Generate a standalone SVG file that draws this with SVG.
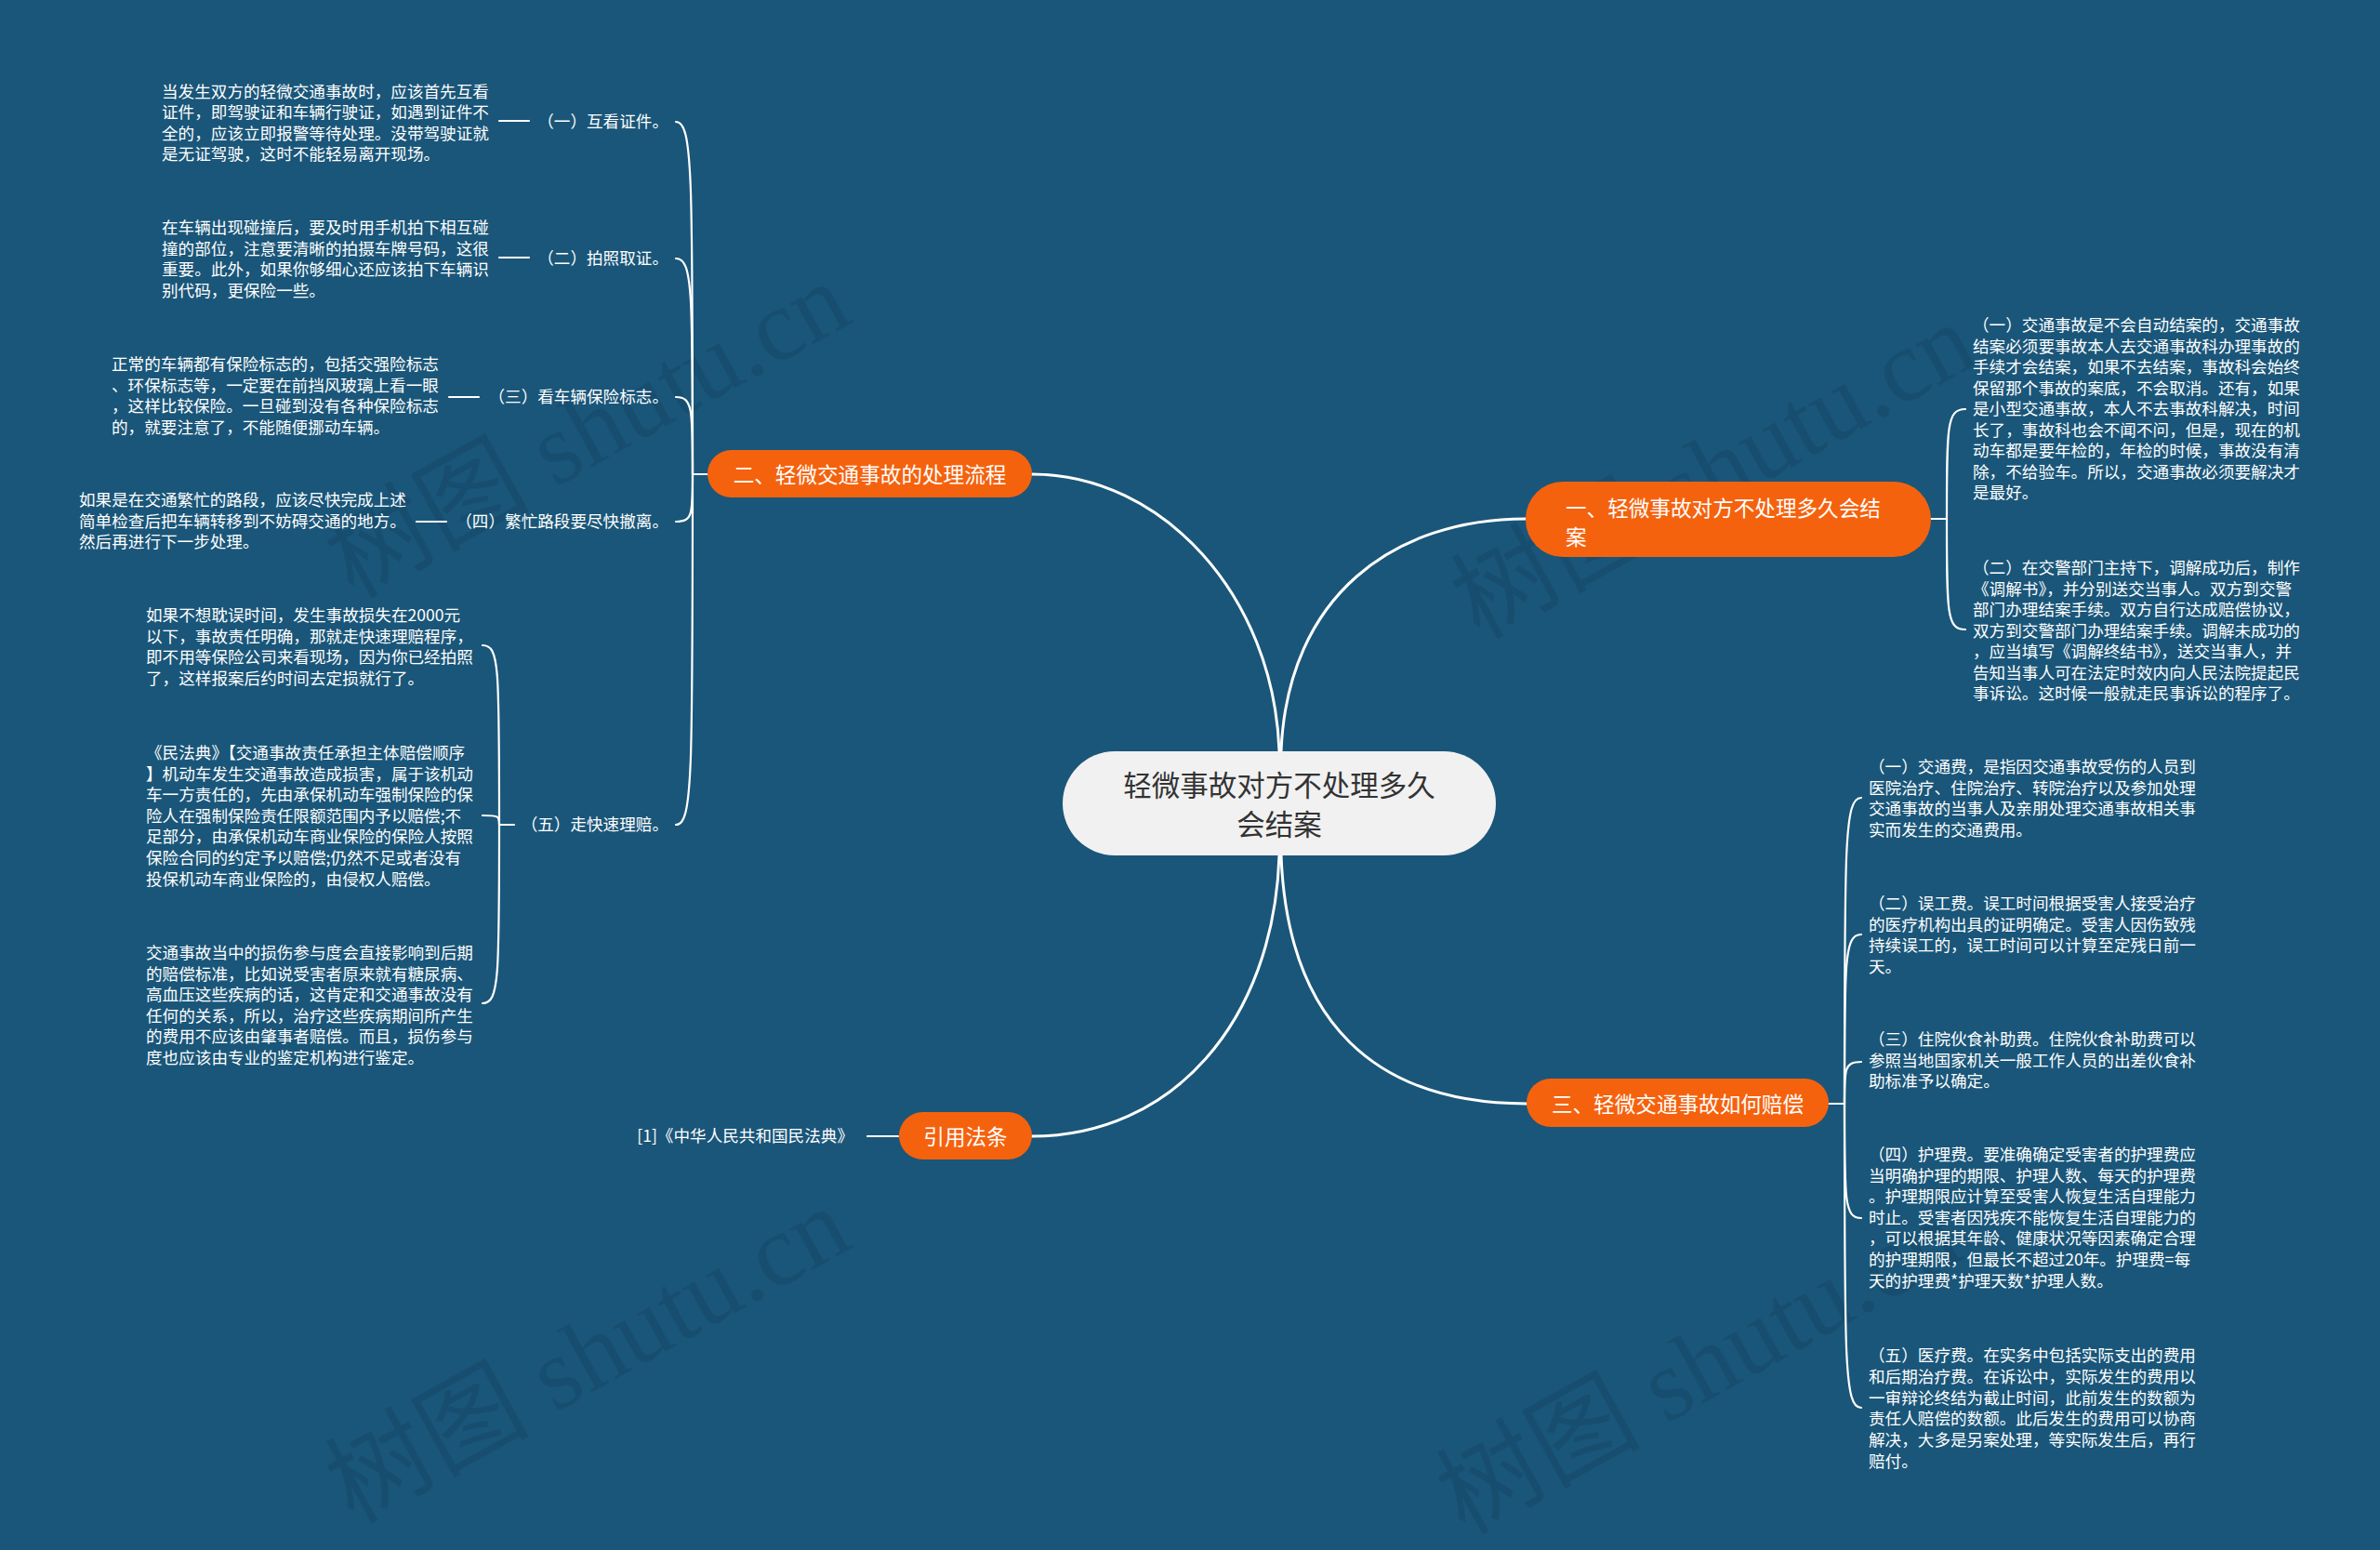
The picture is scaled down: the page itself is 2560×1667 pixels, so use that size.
<svg xmlns="http://www.w3.org/2000/svg" width="2560" height="1667" viewBox="0 0 2560 1667">
<style>
.bg{fill:#1a5679}
.wm{font-family:"Liberation Serif","Noto Sans CJK SC",serif;font-size:110px;fill:#0a2f48;opacity:0.18}
.t{font-family:"Noto Sans CJK SC","Noto Sans",sans-serif;font-size:17.6px;fill:#ffffff;dominant-baseline:central;transform:translateY(-1.5px)}
.lb{text-anchor:end}
.br{fill:#f5620e}
.bt{font-family:"Noto Sans CJK SC","Noto Sans",sans-serif;font-size:22.6px;fill:#ffffff;dominant-baseline:central}
.ct{font-family:"Noto Sans CJK SC","Noto Sans",sans-serif;font-size:30.5px;fill:#333333;dominant-baseline:central;text-anchor:middle}
.c{fill:none;stroke:#ffffff;stroke-width:2.2;stroke-linecap:round}
.m{fill:none;stroke:#ffffff;stroke-width:3;stroke-linecap:round}
</style>
<rect class="bg" x="0" y="0" width="2560" height="1667"/>
<g id="watermarks">
<text class="wm" x="650" y="495" text-anchor="middle" transform="rotate(-29 650 495)">树图 shutu.cn</text>
<text class="wm" x="1861" y="539" text-anchor="middle" transform="rotate(-29 1861 539)">树图 shutu.cn</text>
<text class="wm" x="650" y="1490" text-anchor="middle" transform="rotate(-29 650 1490)">树图 shutu.cn</text>
<text class="wm" x="1845" y="1502" text-anchor="middle" transform="rotate(-29 1845 1502)">树图 shutu.cn</text>
</g>
<g id="connectors">
<path class="m" d="M1376 808 C1370 640 1250 510 1110 510"/>
<path class="m" d="M1378 808 C1385 640 1500 558 1641 558"/>
<path class="m" d="M1378 920 C1385 1100 1480 1187 1642 1187"/>
<path class="m" d="M1376 920 C1370 1100 1260 1222 1110 1222"/>
<path class="c" d="M761 510 L745 510"/>
<path class="c" d="M745 510 C745 187 745 131 727 131"/>
<path class="c" d="M745 510 C745 313 745 278 727 278"/>
<path class="c" d="M745 510 C745 440 745 427 727 427"/>
<path class="c" d="M745 510 C745 553 745 561 727 561"/>
<path class="c" d="M745 510 C745 834 745 887 727 887"/>
<path class="c" d="M537 130 L569 130"/>
<path class="c" d="M537 277 L569 277"/>
<path class="c" d="M483 427 L515 427"/>
<path class="c" d="M448 561 L480 561"/>
<path class="c" d="M553 887 L537 887"/>
<path class="c" d="M537 887 C537 716 537 694 519 694"/>
<path class="c" d="M537 887 C537 878 537 877 519 877"/>
<path class="c" d="M537 887 C537 1050 537 1079 519 1079"/>
<path class="c" d="M933 1222 L966 1222"/>
<path class="c" d="M2077 558 L2094 558"/>
<path class="c" d="M2094 558 C2094 458 2094 440 2114 440"/>
<path class="c" d="M2094 558 C2094 660 2094 677 2114 677"/>
<path class="c" d="M1967 1187 L1984 1187"/>
<path class="c" d="M1984 1187 C1984 907 1984 858 2002 858"/>
<path class="c" d="M1984 1187 C1984 1032 1984 1005 2002 1005"/>
<path class="c" d="M1984 1187 C1984 1149 1984 1142 2002 1142"/>
<path class="c" d="M1984 1187 C1984 1292 1984 1310 2002 1310"/>
<path class="c" d="M1984 1187 C1984 1466 1984 1514 2002 1514"/>
</g>
<g id="center">
<rect x="1143" y="808" width="466" height="112" rx="56" fill="#f1f1f1"/>
<text class="ct" x="1376" y="843">轻微事故对方不处理多久</text>
<text class="ct" x="1376" y="885">会结案</text>
</g>
<g id="b2">
<rect class="br" x="761" y="484" width="349" height="51" rx="25.5"/>
<text class="bt" x="935.5" y="509" text-anchor="middle">二、轻微交通事故的处理流程</text>
</g>
<g id="b1">
<rect class="br" x="1641" y="518" width="436" height="81" rx="40"/>
<text class="bt" x="1684" y="545">一、轻微事故对方不处理多久会结</text>
<text class="bt" x="1684" y="576">案</text>
</g>
<g id="b3">
<rect class="br" x="1642" y="1160" width="325" height="52" rx="26"/>
<text class="bt" x="1804.5" y="1186" text-anchor="middle">三、轻微交通事故如何赔偿</text>
</g>
<g id="b4">
<rect class="br" x="967" y="1196" width="143" height="51" rx="25.5"/>
<text class="bt" x="1038.5" y="1221" text-anchor="middle">引用法条</text>
</g>
<g id="l1">
<text class="t lb" x="719" y="131">（一）互看证件。</text>
</g>
<g id="l1a">
<text class="t" x="174" y="98.5">当发生双方的轻微交通事故时，应该首先互看</text>
<text class="t" x="174" y="121.1">证件，即驾驶证和车辆行驶证，如遇到证件不</text>
<text class="t" x="174" y="143.7">全的，应该立即报警等待处理。没带驾驶证就</text>
<text class="t" x="174" y="166.3">是无证驾驶，这时不能轻易离开现场。</text>
</g>
<g id="l2">
<text class="t lb" x="719" y="278">（二）拍照取证。</text>
</g>
<g id="l2a">
<text class="t" x="174" y="245">在车辆出现碰撞后，要及时用手机拍下相互碰</text>
<text class="t" x="174" y="267.6">撞的部位，注意要清晰的拍摄车牌号码，这很</text>
<text class="t" x="174" y="290.2">重要。此外，如果你够细心还应该拍下车辆识</text>
<text class="t" x="174" y="312.8">别代码，更保险一些。</text>
</g>
<g id="l3">
<text class="t lb" x="719" y="427">（三）看车辆保险标志。</text>
</g>
<g id="l3a">
<text class="t" x="120" y="392">正常的车辆都有保险标志的，包括交强险标志</text>
<text class="t" x="120" y="414.6">、环保标志等，一定要在前挡风玻璃上看一眼</text>
<text class="t" x="120" y="437.2">，这样比较保险。一旦碰到没有各种保险标志</text>
<text class="t" x="120" y="459.8">的，就要注意了，不能随便挪动车辆。</text>
</g>
<g id="l4">
<text class="t lb" x="719" y="561">（四）繁忙路段要尽快撤离。</text>
</g>
<g id="l4a">
<text class="t" x="85" y="538">如果是在交通繁忙的路段，应该尽快完成上述</text>
<text class="t" x="85" y="560.6">简单检查后把车辆转移到不妨碍交通的地方。</text>
<text class="t" x="85" y="583.2">然后再进行下一步处理。</text>
</g>
<g id="l5">
<text class="t lb" x="719" y="887">（五）走快速理赔。</text>
</g>
<g id="l5a">
<text class="t" x="157" y="662">如果不想耽误时间，发生事故损失在2000元</text>
<text class="t" x="157" y="684.6">以下，事故责任明确，那就走快速理赔程序，</text>
<text class="t" x="157" y="707.2">即不用等保险公司来看现场，因为你已经拍照</text>
<text class="t" x="157" y="729.8">了，这样报案后约时间去定损就行了。</text>
</g>
<g id="l5b">
<text class="t" x="157" y="810">《民法典》【交通事故责任承担主体赔偿顺序</text>
<text class="t" x="157" y="832.6">】机动车发生交通事故造成损害，属于该机动</text>
<text class="t" x="157" y="855.2">车一方责任的，先由承保机动车强制保险的保</text>
<text class="t" x="157" y="877.8">险人在强制保险责任限额范围内予以赔偿;不</text>
<text class="t" x="157" y="900.4">足部分，由承保机动车商业保险的保险人按照</text>
<text class="t" x="157" y="923">保险合同的约定予以赔偿;仍然不足或者没有</text>
<text class="t" x="157" y="945.6">投保机动车商业保险的，由侵权人赔偿。</text>
</g>
<g id="l5c">
<text class="t" x="157" y="1025">交通事故当中的损伤参与度会直接影响到后期</text>
<text class="t" x="157" y="1047.6">的赔偿标准，比如说受害者原来就有糖尿病、</text>
<text class="t" x="157" y="1070.2">高血压这些疾病的话，这肯定和交通事故没有</text>
<text class="t" x="157" y="1092.8">任何的关系，所以，治疗这些疾病期间所产生</text>
<text class="t" x="157" y="1115.4">的费用不应该由肇事者赔偿。而且，损伤参与</text>
<text class="t" x="157" y="1138">度也应该由专业的鉴定机构进行鉴定。</text>
</g>
<g id="law">
<text class="t lb" x="918" y="1222">[1]《中华人民共和国民法典》</text>
</g>
<g id="r1a">
<text class="t" x="2122" y="350">（一）交通事故是不会自动结案的，交通事故</text>
<text class="t" x="2122" y="372.5">结案必须要事故本人去交通事故科办理事故的</text>
<text class="t" x="2122" y="395">手续才会结案，如果不去结案，事故科会始终</text>
<text class="t" x="2122" y="417.5">保留那个事故的案底，不会取消。还有，如果</text>
<text class="t" x="2122" y="440">是小型交通事故，本人不去事故科解决，时间</text>
<text class="t" x="2122" y="462.5">长了，事故科也会不闻不问，但是，现在的机</text>
<text class="t" x="2122" y="485">动车都是要年检的，年检的时候，事故没有清</text>
<text class="t" x="2122" y="507.5">除，不给验车。所以，交通事故必须要解决才</text>
<text class="t" x="2122" y="530">是最好。</text>
</g>
<g id="r1b">
<text class="t" x="2122" y="611">（二）在交警部门主持下，调解成功后，制作</text>
<text class="t" x="2122" y="633.5">《调解书》，并分别送交当事人。双方到交警</text>
<text class="t" x="2122" y="656">部门办理结案手续。双方自行达成赔偿协议，</text>
<text class="t" x="2122" y="678.5">双方到交警部门办理结案手续。调解未成功的</text>
<text class="t" x="2122" y="701">，应当填写《调解终结书》，送交当事人，并</text>
<text class="t" x="2122" y="723.5">告知当事人可在法定时效内向人民法院提起民</text>
<text class="t" x="2122" y="746">事诉讼。这时候一般就走民事诉讼的程序了。</text>
</g>
<g id="r3a">
<text class="t" x="2010" y="825">（一）交通费，是指因交通事故受伤的人员到</text>
<text class="t" x="2010" y="847.6">医院治疗、住院治疗、转院治疗以及参加处理</text>
<text class="t" x="2010" y="870.2">交通事故的当事人及亲朋处理交通事故相关事</text>
<text class="t" x="2010" y="892.8">实而发生的交通费用。</text>
</g>
<g id="r3b">
<text class="t" x="2010" y="972">（二）误工费。误工时间根据受害人接受治疗</text>
<text class="t" x="2010" y="994.6">的医疗机构出具的证明确定。受害人因伤致残</text>
<text class="t" x="2010" y="1017.2">持续误工的，误工时间可以计算至定残日前一</text>
<text class="t" x="2010" y="1039.8">天。</text>
</g>
<g id="r3c">
<text class="t" x="2010" y="1118">（三）住院伙食补助费。住院伙食补助费可以</text>
<text class="t" x="2010" y="1140.6">参照当地国家机关一般工作人员的出差伙食补</text>
<text class="t" x="2010" y="1163.2">助标准予以确定。</text>
</g>
<g id="r3d">
<text class="t" x="2010" y="1242">（四）护理费。要准确确定受害者的护理费应</text>
<text class="t" x="2010" y="1264.6">当明确护理的期限、护理人数、每天的护理费</text>
<text class="t" x="2010" y="1287.2">。护理期限应计算至受害人恢复生活自理能力</text>
<text class="t" x="2010" y="1309.8">时止。受害者因残疾不能恢复生活自理能力的</text>
<text class="t" x="2010" y="1332.4">，可以根据其年龄、健康状况等因素确定合理</text>
<text class="t" x="2010" y="1355">的护理期限，但最长不超过20年。护理费=每</text>
<text class="t" x="2010" y="1377.6">天的护理费*护理天数*护理人数。</text>
</g>
<g id="r3e">
<text class="t" x="2010" y="1458">（五）医疗费。在实务中包括实际支出的费用</text>
<text class="t" x="2010" y="1480.8">和后期治疗费。在诉讼中，实际发生的费用以</text>
<text class="t" x="2010" y="1503.6">一审辩论终结为截止时间，此前发生的数额为</text>
<text class="t" x="2010" y="1526.4">责任人赔偿的数额。此后发生的费用可以协商</text>
<text class="t" x="2010" y="1549.2">解决，大多是另案处理，等实际发生后，再行</text>
<text class="t" x="2010" y="1572">赔付。</text>
</g>
</svg>
